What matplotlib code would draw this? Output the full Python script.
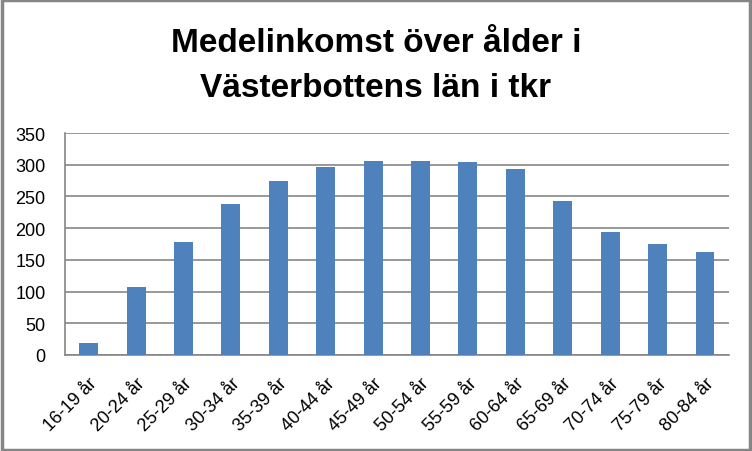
import matplotlib
matplotlib.use("Agg")
import matplotlib.pyplot as plt
from matplotlib.patches import Rectangle

# age groups and mean income (tkr)
ages = ["16-19 år", "20-24 år", "25-29 år", "30-34 år", "35-39 år", "40-44 år", "45-49 år",
        "50-54 år", "55-59 år", "60-64 år", "65-69 år", "70-74 år", "75-79 år", "80-84 år"]
income = [19, 107, 178, 238, 275, 297, 306, 306, 305, 294, 243, 194, 175, 163]
yticks = [0, 50, 100, 150, 200, 250, 300, 350]
title_lines = ["Medelinkomst över ålder i", "Västerbottens län i tkr"]

plt.rcParams['font.family'] = ['Liberation Sans', 'DejaVu Sans']

fig = plt.figure(figsize=(7.52, 4.52), dpi=100)
ax = fig.add_axes([0.0864, 0.2124, 0.8826, 0.4911])

x = range(len(ages))
ax.bar(x, income, width=0.4, color="#4f81bd", zorder=3)
ax.set_xlim(-0.5, len(ages) - 0.5)
ax.set_ylim(0, 350)
ax.set_yticks(yticks)
ax.set_xticks(list(x))
ax.set_xticklabels(ages, rotation=45, ha="right", rotation_mode="anchor", fontsize=13)
ax.tick_params(axis="y", labelsize=13, length=0, pad=14)
ax.tick_params(axis="x", length=0, pad=14)
ax.yaxis.grid(True, color="#868686", linewidth=1.2, zorder=0)

for s in ["top", "right"]:
    ax.spines[s].set_visible(False)
for s in ["left", "bottom"]:
    ax.spines[s].set_color("#868686")
    ax.spines[s].set_linewidth(1.2)

# two title lines, baselines placed like the original
fig.text(0.5, 1 - 52 / 452, title_lines[0], ha="center", va="baseline",
         fontsize=24, fontweight="bold")
fig.text(0.5, 1 - 97 / 452, title_lines[1], ha="center", va="baseline",
         fontsize=24, fontweight="bold")

# outer chart border
fig.patches.append(Rectangle((0.002, 0.003), 0.995, 0.994, transform=fig.transFigure,
                             fill=False, edgecolor="#868686", linewidth=2.5))

fig.savefig("out.png", dpi=100)
